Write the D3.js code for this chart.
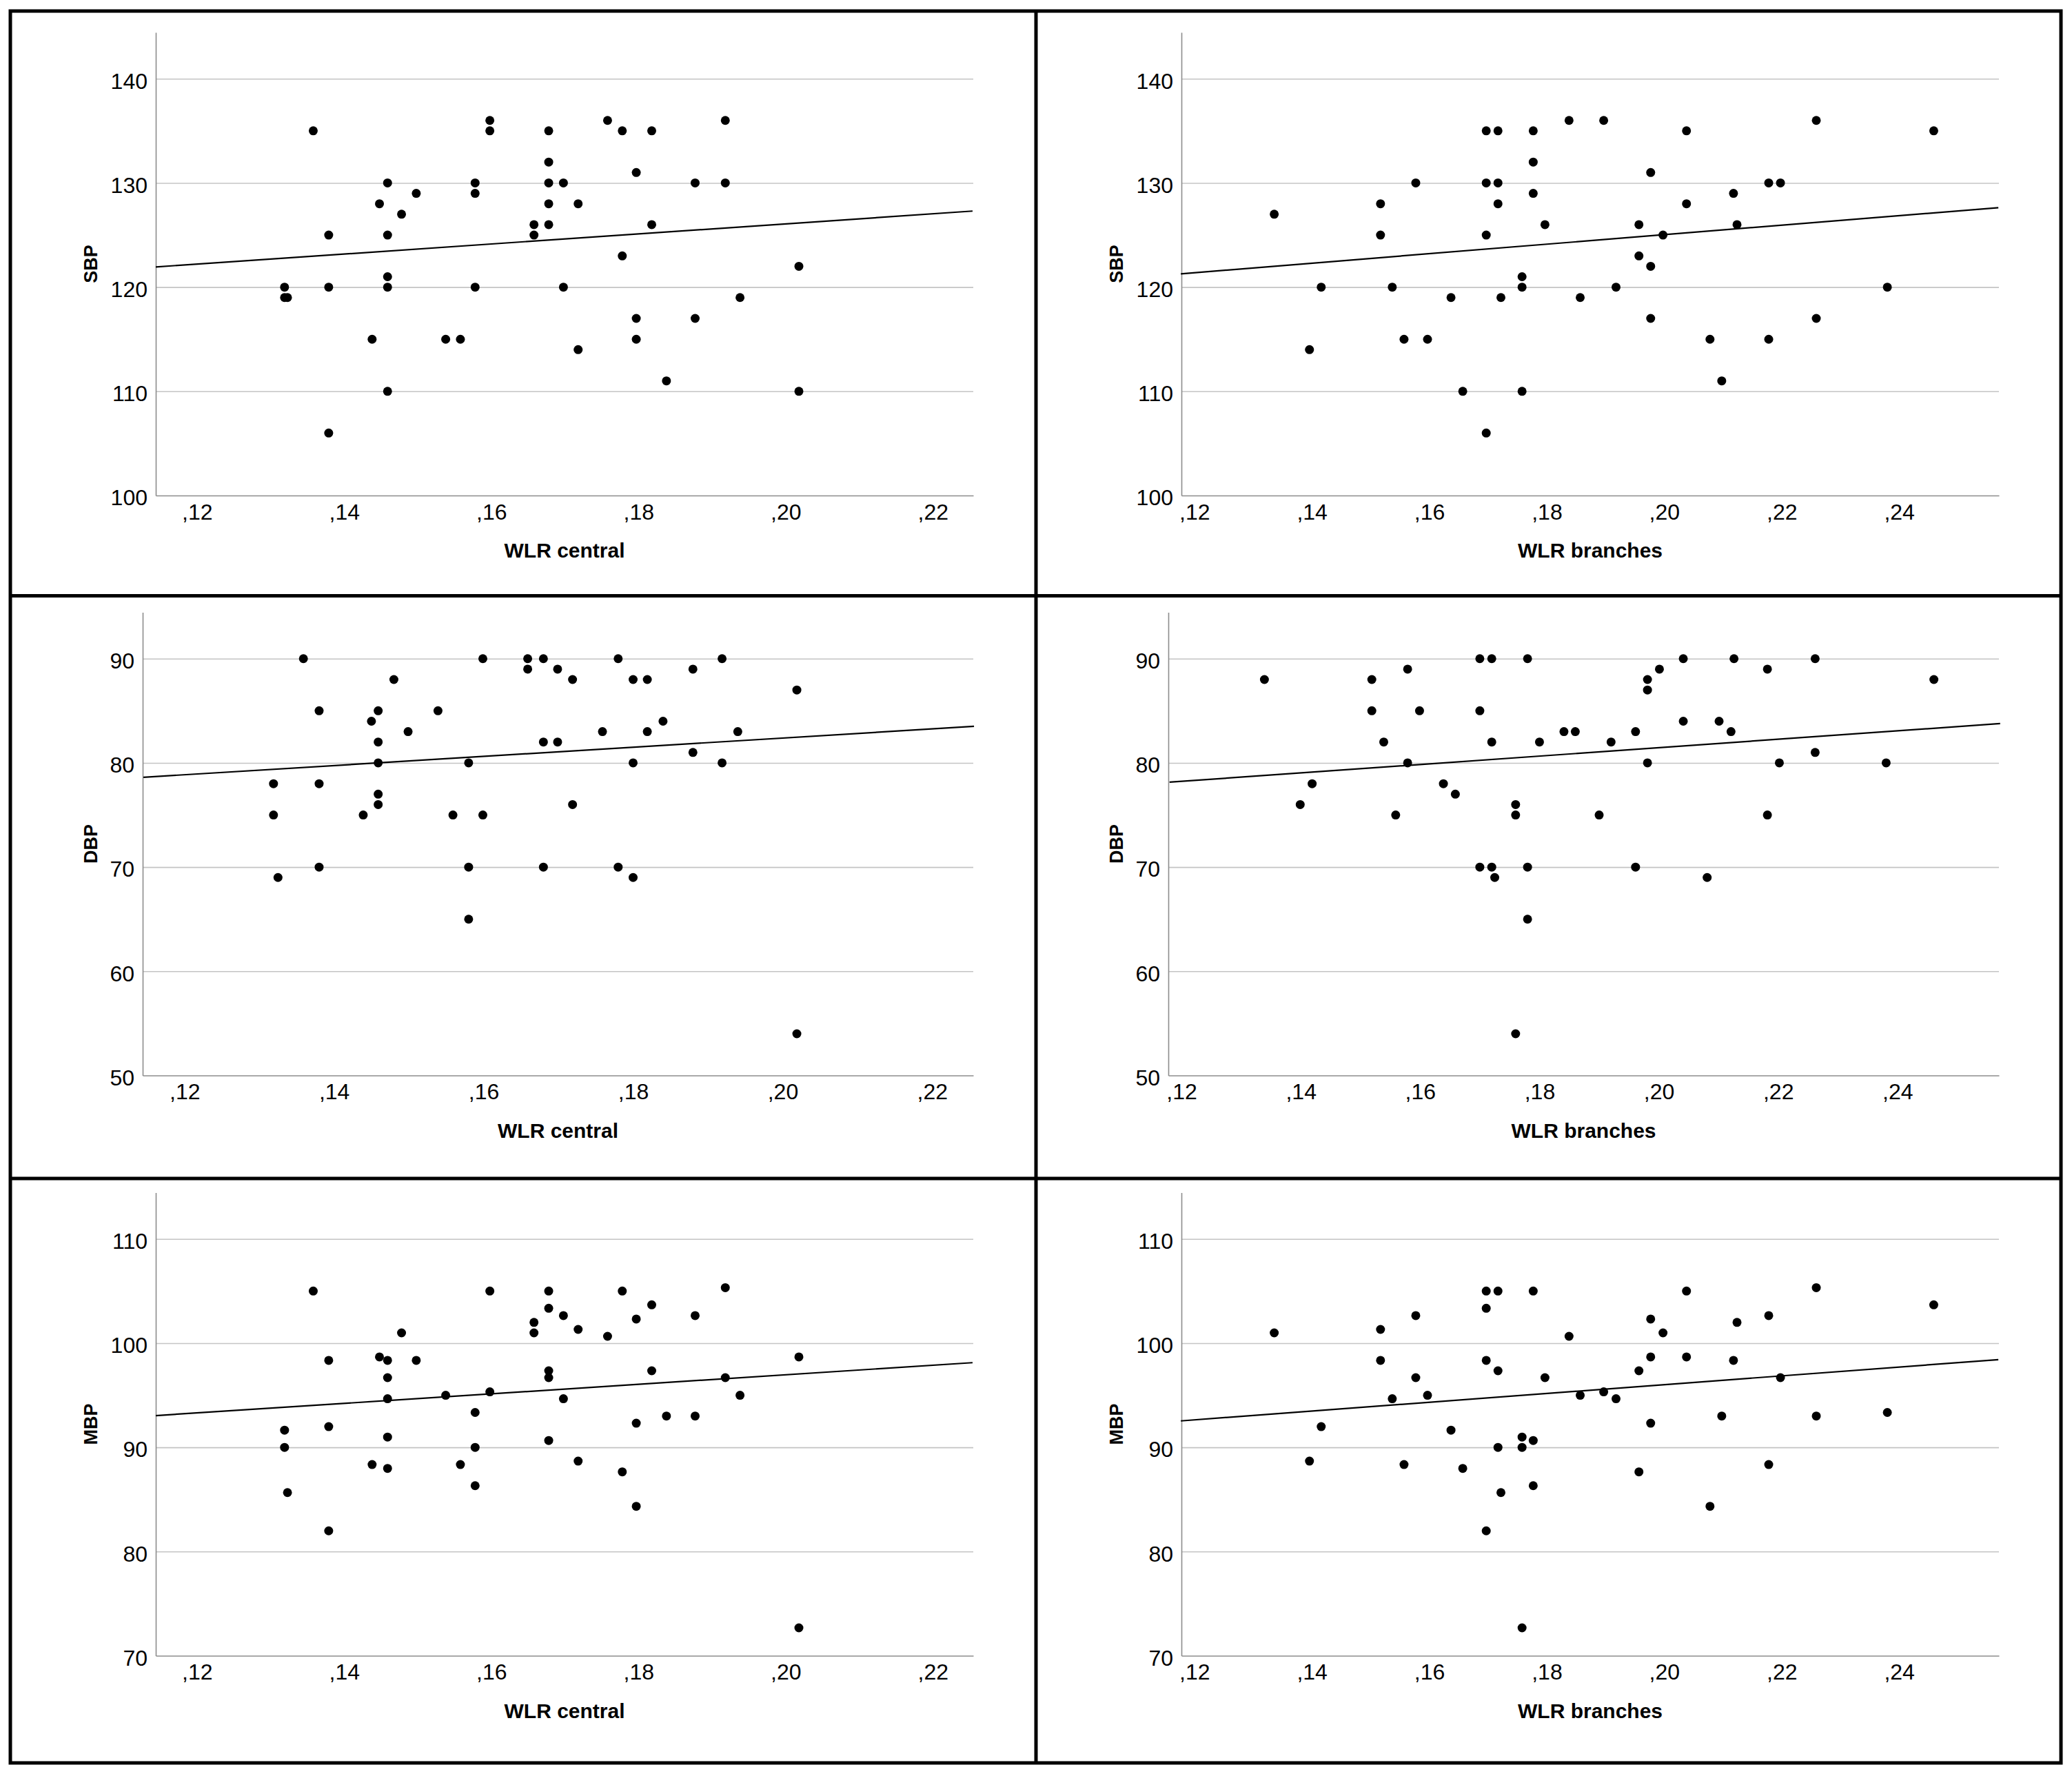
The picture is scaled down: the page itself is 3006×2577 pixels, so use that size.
<!DOCTYPE html>
<html>
<head>
<meta charset="utf-8">
<script src="https://d3js.org/d3.v7.min.js"></script>
<style>
  body { margin: 0; background: #fff; }
  text { font-family: "Liberation Sans", Arial, sans-serif; fill: #000; }
</style>
</head>
<body>
<div id="container"></div>
<script>
// ---- data: [WLR, blood pressure] ----
var sbpCentral = [
  [0.1358,135],[0.1319,120],[0.1319,119],[0.1323,119],[0.1379,125],[0.1379,120],[0.1379,106],
  [0.1438,115],[0.1448,128],[0.1459,130],[0.1459,125],[0.1459,121],[0.1459,120],[0.1459,110],
  [0.1478,127],[0.1498,129],[0.1538,115],[0.1558,115],[0.1578,130],[0.1578,129],[0.1578,120],
  [0.1598,136],[0.1598,135],[0.1658,126],[0.1658,125],[0.1678,135],[0.1678,132],[0.1678,130],
  [0.1678,128],[0.1678,126],[0.1698,130],[0.1698,120],[0.1718,128],[0.1718,114],[0.1758,136],
  [0.1778,135],[0.1778,123],[0.1797,131],[0.1797,117],[0.1797,115],[0.1818,135],[0.1818,126],
  [0.1838,111],[0.1877,130],[0.1877,117],[0.1918,136],[0.1918,130],[0.1938,119],[0.2018,122],
  [0.2018,110]
];
var sbpBranches = [
  [0.1336,127],[0.1396,114],[0.1416,120],[0.1517,128],[0.1517,125],[0.1537,120],[0.1557,115],
  [0.1577,130],[0.1597,115],[0.1637,119],[0.1657,110],[0.1697,135],[0.1697,130],[0.1697,125],
  [0.1697,106],[0.1717,135],[0.1717,130],[0.1717,128],[0.1722,119],[0.1758,121],[0.1758,120],
  [0.1758,110],[0.1777,135],[0.1777,132],[0.1777,129],[0.1797,126],[0.1838,136],[0.1857,119],
  [0.1897,136],[0.1918,120],[0.1957,126],[0.1957,123],[0.1977,131],[0.1977,122],[0.1977,117],
  [0.1998,125],[0.2038,135],[0.2038,128],[0.2078,115],[0.2098,111],[0.2118,129],[0.2124,126],
  [0.2178,130],[0.2178,115],[0.2198,130],[0.2259,136],[0.2259,117],[0.2380,120],[0.2459,135]
];
var dbpCentral = [
  [0.1359,90],[0.1319,78],[0.1319,75],[0.1325,69],[0.1380,85],[0.1380,78],[0.1380,70],
  [0.1439,75],[0.1450,84],[0.1459,85],[0.1459,82],[0.1459,80],[0.1459,77],[0.1459,76],
  [0.1480,88],[0.1499,83],[0.1539,85],[0.1559,75],[0.1580,80],[0.1580,70],[0.1580,65],
  [0.1599,90],[0.1599,75],[0.1659,90],[0.1659,89],[0.1680,90],[0.1680,82],[0.1680,70],
  [0.1699,89],[0.1699,82],[0.1719,88],[0.1719,76],[0.1759,83],[0.1780,90],[0.1780,70],
  [0.1800,88],[0.1800,80],[0.1800,69],[0.1819,88],[0.1819,83],[0.1840,84],[0.1880,89],
  [0.1880,81],[0.1919,90],[0.1919,80],[0.1940,83],[0.2019,87],[0.2019,54]
];
var dbpBranches = [
  [0.1339,88],[0.1399,76],[0.1419,78],[0.1519,88],[0.1519,85],[0.1539,82],[0.1559,75],
  [0.1579,89],[0.1579,80],[0.1599,85],[0.1639,78],[0.1659,77],[0.1700,90],[0.1700,85],
  [0.1700,70],[0.1720,90],[0.1720,82],[0.1720,70],[0.1725,69],[0.1760,76],[0.1760,75],
  [0.1760,54],[0.1780,90],[0.1780,70],[0.1780,65],[0.1800,82],[0.1841,83],[0.1860,83],
  [0.1900,75],[0.1920,82],[0.1961,83],[0.1961,70],[0.1981,88],[0.1981,87],[0.1981,80],
  [0.2001,89],[0.2041,90],[0.2041,84],[0.2081,69],[0.2101,84],[0.2121,83],[0.2126,90],
  [0.2182,89],[0.2182,75],[0.2202,80],[0.2262,90],[0.2262,81],[0.2381,80],[0.2461,88]
];
var mbpCentral = [
  [0.1358,105.0],[0.1319,91.65],[0.1319,90.0],[0.1323,85.66],[0.1379,98.35],[0.1379,91.99],
  [0.1379,81.99],[0.1438,88.35],[0.1448,98.68],[0.1459,98.35],[0.1459,96.69],[0.1459,94.67],
  [0.1459,90.99],[0.1459,87.98],[0.1478,100.99],[0.1498,98.35],[0.1538,95.0],[0.1558,88.35],
  [0.1578,93.35],[0.1578,90.0],[0.1578,86.32],[0.1598,105.0],[0.1598,95.33],[0.1658,101.99],
  [0.1658,100.99],[0.1678,105.0],[0.1678,103.35],[0.1678,97.35],[0.1678,96.69],[0.1678,90.66],
  [0.1698,102.65],[0.1698,94.67],[0.1718,101.32],[0.1718,88.68],[0.1758,100.66],[0.1778,105.0],
  [0.1778,87.65],[0.1797,102.32],[0.1797,92.32],[0.1797,84.34],[0.1818,103.68],[0.1818,97.35],
  [0.1838,93.01],[0.1877,102.65],[0.1877,93.01],[0.1918,105.33],[0.1918,96.69],[0.1938,95.0],
  [0.2018,98.68],[0.2018,72.68]
];
var mbpBranches = [
  [0.1336,100.99],[0.1396,88.68],[0.1416,91.99],[0.1517,101.32],[0.1517,98.35],[0.1537,94.67],
  [0.1557,88.35],[0.1577,102.65],[0.1577,96.69],[0.1597,95.0],[0.1637,91.65],[0.1657,87.98],
  [0.1697,105.0],[0.1697,103.35],[0.1697,98.35],[0.1697,81.99],[0.1717,105.0],[0.1717,97.35],
  [0.1717,90.0],[0.1722,85.66],[0.1758,90.99],[0.1758,90.0],[0.1758,72.68],[0.1777,105.0],
  [0.1777,90.66],[0.1777,86.32],[0.1797,96.69],[0.1838,100.66],[0.1857,95.0],[0.1897,95.33],
  [0.1918,94.67],[0.1957,97.35],[0.1957,87.65],[0.1977,102.32],[0.1977,98.68],[0.1977,92.32],
  [0.1998,100.99],[0.2038,105.0],[0.2038,98.68],[0.2078,84.34],[0.2098,93.01],[0.2118,98.35],
  [0.2124,101.99],[0.2178,102.65],[0.2178,88.35],[0.2198,96.69],[0.2259,105.33],[0.2259,93.01],
  [0.2380,93.35],[0.2459,103.68]
];

// fit lines [x0, y0, x1, y1]
var fitSbpCentral  = [0.1144, 121.94, 0.2254, 127.30];
var fitSbpBranches = [0.1177, 121.28, 0.2569, 127.63];
var fitDbpCentral  = [0.1145, 78.62, 0.2256, 83.51];
var fitDbpBranches = [0.1180, 78.15, 0.2572, 83.77];
var fitMbpCentral  = [0.1144, 93.05, 0.2254, 98.13];
var fitMbpBranches = [0.1177, 92.54, 0.2569, 98.42];

// ticks
var centralTicks = [0.12, 0.14, 0.16, 0.18, 0.20, 0.22];
var branchTicks = [0.12, 0.14, 0.16, 0.18, 0.20, 0.22, 0.24];
var sbpTicks = [100, 110, 120, 130, 140];
var dbpTicks = [50, 60, 70, 80, 90];
var mbpTicks = [70, 80, 90, 100, 110];
var centralDomain = [0.1144, 0.2255];
var branchDomain = [0.1178, 0.2570];

var width = 3006, height = 2577;
var svg = d3.select("#container").append("svg")
  .attr("width", width).attr("height", height)
  .attr("viewBox", "0 0 " + width + " " + height);

svg.append("rect").attr("width", width).attr("height", height).attr("fill", "#fff");

var panels = [
  {col: 0, row: 0, pts: sbpCentral,  fit: fitSbpCentral,  xt: centralTicks, xd: centralDomain, yt: sbpTicks, xl: "WLR central",  yl: "SBP"},
  {col: 1, row: 0, pts: sbpBranches, fit: fitSbpBranches, xt: branchTicks,  xd: branchDomain,  yt: sbpTicks, xl: "WLR branches", yl: "SBP"},
  {col: 0, row: 1, pts: dbpCentral,  fit: fitDbpCentral,  xt: centralTicks, xd: centralDomain, yt: dbpTicks, xl: "WLR central",  yl: "DBP"},
  {col: 1, row: 1, pts: dbpBranches, fit: fitDbpBranches, xt: branchTicks,  xd: branchDomain,  yt: dbpTicks, xl: "WLR branches", yl: "DBP"},
  {col: 0, row: 2, pts: mbpCentral,  fit: fitMbpCentral,  xt: centralTicks, xd: centralDomain, yt: mbpTicks, xl: "WLR central",  yl: "MBP"},
  {col: 1, row: 2, pts: mbpBranches, fit: fitMbpBranches, xt: branchTicks,  xd: branchDomain,  yt: mbpTicks, xl: "WLR branches", yl: "MBP"}
];

var colX = [15, 1503];
var rowY = [0, 841.5, 1683.5];
var fmtX = function(d) { return d3.format(".2f")(d).replace("0.", ","); };

panels.forEach(function(p) {
  var x0 = colX[p.col];
  var digits = d3.max(p.yt, function(d) { return String(d).length; });
  var left = x0 + (digits > 2 ? 211 : 192);
  var right = x0 + 1397;
  var bottom = 719 + rowY[p.row];
  var top = 47 + rowY[p.row];

  var xScale = d3.scaleLinear().domain(p.xd).range([left, right]);
  var yMin = p.yt[0];
  var yScale = d3.scaleLinear().domain([yMin, yMin + 44.45]).range([bottom, top]);

  var g = svg.append("g");

  // gridlines
  g.append("g")
    .attr("transform", "translate(" + left + ",0)")
    .call(d3.axisLeft(yScale).tickValues(p.yt.slice(1)).tickSize(-(right - left)).tickFormat(""))
    .call(function(s) {
      s.select(".domain").remove();
      s.selectAll("line").attr("stroke", "#c4c4c4").attr("stroke-width", 1.6);
    });

  // y axis
  g.append("g")
    .attr("transform", "translate(" + left + ",0)")
    .call(d3.axisLeft(yScale).tickValues(p.yt).tickSize(0).tickPadding(12))
    .call(function(s) {
      s.select(".domain").attr("stroke", "#8c8c8c").attr("stroke-width", 1.6);
      s.selectAll("text").attr("font-size", 32).attr("dy", "0.43em")
        .attr("font-family", "Liberation Sans, Arial, sans-serif").attr("fill", "#000");
    });

  // x axis
  g.append("g")
    .attr("transform", "translate(0," + bottom + ")")
    .call(d3.axisBottom(xScale).tickValues(p.xt).tickSize(0).tickPadding(12).tickFormat(fmtX))
    .call(function(s) {
      s.select(".domain").attr("stroke", "#8c8c8c").attr("stroke-width", 1.6);
      s.selectAll("text").attr("font-size", 32)
        .attr("font-family", "Liberation Sans, Arial, sans-serif").attr("fill", "#000");
    });

  // axis titles
  g.append("text")
    .attr("x", (left + right) / 2)
    .attr("y", bottom + 90)
    .attr("text-anchor", "middle")
    .attr("font-size", 30)
    .attr("font-weight", "bold")
    .text(p.xl);

  g.append("text")
    .attr("transform", "translate(" + (x0 + 116) + "," + ((top + bottom) / 2) + ") rotate(-90)")
    .attr("text-anchor", "middle")
    .attr("dy", "0.36em")
    .attr("font-size", 27)
    .attr("font-weight", "bold")
    .text(p.yl);

  // fit line
  g.append("line")
    .attr("x1", xScale(p.fit[0])).attr("y1", yScale(p.fit[1]))
    .attr("x2", xScale(p.fit[2])).attr("y2", yScale(p.fit[3]))
    .attr("stroke", "#000").attr("stroke-width", 2.2);

  // points
  g.selectAll("circle")
    .data(p.pts)
    .enter()
    .append("circle")
    .attr("cx", function(d) { return xScale(d[0]); })
    .attr("cy", function(d) { return yScale(d[1]); })
    .attr("r", 6.5)
    .attr("fill", "#000");
});

// panel borders
var frame = svg.append("g").attr("stroke", "#000").attr("stroke-width", 5).attr("fill", "none");
frame.append("rect").attr("x", 15).attr("y", 16).attr("width", 2975).attr("height", 2542);
frame.append("line").attr("x1", 1503).attr("y1", 16).attr("x2", 1503).attr("y2", 2558);
frame.append("line").attr("x1", 15).attr("y1", 864.5).attr("x2", 2990).attr("y2", 864.5);
frame.append("line").attr("x1", 15).attr("y1", 1710).attr("x2", 2990).attr("y2", 1710);
</script>
</body>
</html>
